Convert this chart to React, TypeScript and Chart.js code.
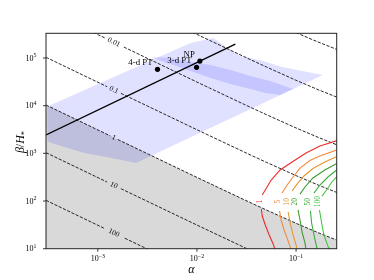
import React, { useEffect, useRef } from 'react';
import { Chart, registerables } from 'chart.js';

Chart.register(...registerables);

type P = [number, number | null];

// Axis ranges (alpha, beta/H*)
const X_MIN = 3.1e-4;
const X_MAX = 0.257;
const Y_MIN = 10;
const Y_MAX = 3.3e5;

// Tick values and exponent labels
const xTicks = [1e-3, 1e-2, 1e-1];
const xTickExp = ['\u22123', '\u22122', '\u22121'];
const yTicks = [1e1, 1e2, 1e3, 1e4, 1e5];
const yTickExp = ['1', '2', '3', '4', '5'];

// Gray excluded region (below the "1" iso-line)
const grayRegion: P[] = [[3.0e-4, 10340], [1e-3, 3103], [0.01, 313.1], [0.03, 106.4], [0.05, 65.1], [0.1, 34.1], [0.17, 21.33], [0.26, 15.02]];

// Light blue band (polygon)
const lightBand: P[] = [
  [3.1e-4, 9600], [0.00863, 206000], [0.01469, 262400], [0.02173, 146900], [0.02742, 110000],
  [0.04667, 86450], [0.069, 66200], [0.1023, 55960], [0.1866, 43950], [0.00242, 627],
  [0.001297, 818], [7.28e-4, 1016], [3.4e-4, 1648], [3.1e-4, 1815],
];

// Darker blue band (polygon)
const darkBand: P[] = [
  [3.59e-3, 104800], [5.44e-3, 99900], [7.69e-3, 86450], [0.0137, 71260], [0.02175, 55960],
  [0.03453, 41900], [0.05481, 32910], [0.09326, 22360], [0.06905, 16730], [0.04884, 18430],
  [0.03453, 22360], [0.02175, 28470], [0.0137, 38030], [8.63e-3, 53330], [5.44e-3, 74770], [3.59e-3, 99900],
];

// Dashed iso-lines (null marks the gap for the inline label)
const iso00001: P[] = [[0.1, 341000], [0.15, 237700], [0.17, 213300], [0.26, 150200]];
const iso0001: P[] = [[0.009, 347600], [0.01, 313100], [0.03, 106400], [0.05, 65100], [0.1, 34100], [0.17, 21330], [0.26, 15020]];
const iso001: P[] = [[9e-4, 344700], [1.18e-3, 263000], [1.45e-3, null], [1.83e-3, 169700], [0.01, 31310], [0.03, 10640], [0.05, 6510], [0.1, 3410], [0.17, 2133], [0.26, 1502]];
const iso01: P[] = [[3.0e-4, 103400], [1.24e-3, 25030], [1.45e-3, null], [1.71e-3, 18160], [0.01, 3131], [0.03, 1064], [0.05, 651], [0.1, 341], [0.17, 213.3], [0.26, 150.2]];
const iso1: P[] = [[3.0e-4, 10340], [1.34e-3, 2317], [1.45e-3, null], [1.59e-3, 1953], [0.01, 313.1], [0.03, 106.4], [0.05, 65.1], [0.1, 34.1], [0.17, 21.33], [0.26, 15.02]];
const iso10: P[] = [[3.0e-4, 1034], [1.24e-3, 250.3], [1.45e-3, null], [1.71e-3, 181.6], [0.01, 31.31], [0.03, 10.64], [0.035, 9.17]];
const iso100: P[] = [[3.0e-4, 103.4], [1.15e-3, 26.99], [1.45e-3, null], [1.87e-3, 16.61], [3.2e-3, 9.72]];

const isoLabelText = ['0.01', '0.1', '1', '10', '100'];
const isoLabelLines = [iso001, iso01, iso1, iso10, iso100];
const isoLabelAlpha = [1.45e-3, 1.45e-3, 1.45e-3, 1.45e-3, 1.45e-3];
const isoLabelBeta = [214100, 21410, 2141, 214.1, 21.41];

// SNR contours
const snr1: P[] = [[0.264, 1875], [0.174, 1426], [0.126, 1016], [0.0912, 658], [0.069, 448], [0.0561, 276], [0.0489, 170], [0.0456, 134], [0.045, null], [0.0446, 68], [0.0456, 48.5], [0.0489, 31.4], [0.0536, 19.4], [0.0587, 12.6], [0.0615, 9.5]];
const snr5: P[] = [[0.264, 1204], [0.174, 879], [0.138, 708], [0.1096, 492], [0.0933, 319], [0.0813, 217], [0.0723, 147], [0.07, null], [0.0682, 61.8], [0.0706, 40], [0.0757, 24.7], [0.0813, 16.7], [0.0871, 10.9], [0.0891, 9.5]];
const snr10: P[] = [[0.264, 879], [0.1954, 658], [0.1479, 481], [0.1202, 335], [0.1023, 227], [0.0912, 162], [0.087, null], [0.0832, 58.9], [0.0871, 34.6], [0.0933, 19.4], [0.1012, 10.9], [0.1023, 9.5]];
const snr20: P[] = [[0.264, 627], [0.1954, 448], [0.1479, 304], [0.123, 197], [0.1096, 140], [0.107, null], [0.1047, 64.9], [0.1096, 40], [0.1148, 22.4], [0.123, 13.2], [0.1259, 9.5]];
const snr50: P[] = [[0.264, 470], [0.2094, 319], [0.1742, 217], [0.1514, 147], [0.145, null], [0.1396, 61.8], [0.1435, 34.6], [0.1514, 19.4], [0.1614, 10.9], [0.1626, 9.5]];
const snr100: P[] = [[0.264, 343], [0.2296, 251], [0.2032, 170], [0.1824, 127], [0.177, null], [0.1722, 64.9], [0.1811, 34.6], [0.191, 19.4], [0.2109, 10.9], [0.2143, 9.5]];

const snrCurves = [snr1, snr5, snr10, snr20, snr50, snr100];
const snrLabels = ['1', '5', '10', '20', '50', '100'];
const snrColors = ['#ee2a2a', '#f5893a', '#e8952a', '#3d9a30', '#3aae3a', '#44c444'];
const snrLabelAlpha = [0.0436, 0.0664, 0.0805, 0.0977, 0.1327, 0.1675];
const snrLabelBeta = [96.8, 96.8, 96.8, 96.8, 96.8, 96.8];

// Solid line
const solidLine: P[] = [[3.0e-4, 2430], [0.0244, 196000]];

// Benchmark points
const ptNames = ['4-d PT', '3-d PT', 'NP'];
const ptAlpha = [0.004, 0.00991, 0.0107];
const ptBeta = [57900, 63750, 86450];

const toXY = (arr: P[]) => arr.map(([x, y]) => ({ x, y }));

const SERIF = '"Liberation Serif", "Times New Roman", serif';

const decorPlugin = {
  id: 'decor',
  afterDatasetsDraw(chart: any) {
    const ctx = chart.ctx as CanvasRenderingContext2D;
    const xs = chart.scales.x;
    const ys = chart.scales.y;
    ctx.save();
    ctx.font = `7.5px ${SERIF}`;
    ctx.fillStyle = '#000';
    ctx.textAlign = 'center';
    ctx.textBaseline = 'middle';
    isoLabelText.forEach((t, i) => {
      const line = isoLabelLines[i];
      const gi = line.findIndex((p) => p[1] === null);
      const a = line[gi - 1];
      const b = line[gi + 1];
      const ang = Math.atan2(
        ys.getPixelForValue(b[1]) - ys.getPixelForValue(a[1]),
        xs.getPixelForValue(b[0]) - xs.getPixelForValue(a[0])
      );
      const px = xs.getPixelForValue(isoLabelAlpha[i]);
      const py = ys.getPixelForValue(isoLabelBeta[i]);
      ctx.save();
      ctx.translate(px, py);
      ctx.rotate(ang);
      ctx.fillText(t, 0, 0);
      ctx.restore();
    });
    snrLabels.forEach((t, i) => {
      const px = xs.getPixelForValue(snrLabelAlpha[i]);
      const py = ys.getPixelForValue(snrLabelBeta[i]);
      ctx.save();
      ctx.translate(px, py);
      ctx.rotate(-Math.PI / 2);
      ctx.fillStyle = snrColors[i];
      ctx.fillText(t, 0, 0);
      ctx.restore();
    });
    ctx.font = `8.8px ${SERIF}`;
    ctx.fillStyle = '#000';
    ctx.textAlign = 'right';
    ctx.textBaseline = 'alphabetic';
    ptNames.forEach((t, i) => {
      const px = xs.getPixelForValue(ptAlpha[i]);
      const py = ys.getPixelForValue(ptBeta[i]);
      ctx.fillText(t, px - 5, py - 4);
    });
    ctx.restore();
  },
  afterDraw(chart: any) {
    const ctx = chart.ctx as CanvasRenderingContext2D;
    const xs = chart.scales.x;
    const ys = chart.scales.y;
    const ca = chart.chartArea;
    ctx.save();
    ctx.strokeStyle = '#222';
    ctx.lineWidth = 1;
    ctx.strokeRect(ca.left, ca.top, ca.right - ca.left, ca.bottom - ca.top);
    ctx.lineWidth = 0.9;
    ctx.beginPath();
    xTicks.forEach((v) => {
      const x = xs.getPixelForValue(v);
      ctx.moveTo(x, ca.bottom);
      ctx.lineTo(x, ca.bottom + 3);
    });
    yTicks.forEach((v) => {
      const y = ys.getPixelForValue(v);
      ctx.moveTo(ca.left, y);
      ctx.lineTo(ca.left - 3, y);
    });
    ctx.stroke();

    ctx.fillStyle = '#000';
    ctx.textBaseline = 'alphabetic';
    ctx.textAlign = 'left';
    const baseFont = `8px ${SERIF}`;
    const supFont = `5.8px ${SERIF}`;
    const measure = (t: string, f: string) => {
      ctx.font = f;
      return ctx.measureText(t).width;
    };
    xTicks.forEach((v, i) => {
      const x = xs.getPixelForValue(v);
      const w1 = measure('10', baseFont);
      const w2 = measure(xTickExp[i], supFont);
      const x0 = x - (w1 + w2) / 2;
      ctx.font = baseFont;
      ctx.fillText('10', x0, ca.bottom + 12.5);
      ctx.font = supFont;
      ctx.fillText(xTickExp[i], x0 + w1, ca.bottom + 8.8);
    });
    yTicks.forEach((v, i) => {
      const y = ys.getPixelForValue(v);
      const w1 = measure('10', baseFont);
      const w2 = measure(yTickExp[i], supFont);
      const right = ca.left - 9.5;
      const x0 = right - (w1 + w2);
      ctx.font = baseFont;
      ctx.fillText('10', x0, y + 2.5);
      ctx.font = supFont;
      ctx.fillText(yTickExp[i], x0 + w1, y - 0.8);
    });

    ctx.font = `italic 12px ${SERIF}`;
    ctx.textAlign = 'center';
    ctx.textBaseline = 'middle';
    ctx.fillText('\u03b1', (ca.left + ca.right) / 2, 270);

    ctx.save();
    ctx.translate(19.5, (ca.top + ca.bottom) / 2 + 1);
    ctx.rotate(-Math.PI / 2);
    ctx.textAlign = 'left';
    ctx.textBaseline = 'alphabetic';
    const fI = `italic 12px ${SERIF}`;
    const fR = `12px ${SERIF}`;
    const fS = `8.5px ${SERIF}`;
    const parts: [string, string, number][] = [['\u03b2', fI, 0], ['/', fR, 0], ['H', fI, 0], ['*', fS, 3.6]];
    const widths = parts.map(([t, f]) => measure(t, f));
    const total = widths.reduce((a, b) => a + b, 0);
    let cx = -total / 2;
    parts.forEach(([t, f, dy], i) => {
      ctx.font = f;
      ctx.fillText(t, cx, 4.2 + dy);
      cx += widths[i];
    });
    ctx.restore();
    ctx.restore();
  },
};

export default function App() {
  const ref = useRef<HTMLCanvasElement | null>(null);
  useEffect(() => {
    if (!ref.current) return;
    Chart.defaults.font.family = SERIF;
    const fillDs = (data: P[], color: string, fill: any, order: number) => ({
      data: toXY(data),
      fill,
      backgroundColor: color,
      borderColor: 'rgba(0,0,0,0)',
      borderWidth: 0,
      pointRadius: 0,
      order,
    });
    const dashDs = (data: P[]) => ({
      data: toXY(data),
      fill: false,
      borderColor: '#111',
      borderWidth: 0.9,
      borderDash: [3.2, 1.5],
      pointRadius: 0,
      order: 5,
    });
    const datasets: any[] = [
      fillDs(grayRegion, '#d9d9d9', 'start', 10),
      fillDs(lightBand, 'rgba(0,0,255,0.12)', 'shape', 9),
      fillDs(darkBand, 'rgba(0,0,255,0.12)', 'shape', 8),
      ...[iso00001, iso0001, iso001, iso01, iso1, iso10, iso100].map(dashDs),
      ...snrCurves.map((c, i) => ({
        data: toXY(c),
        fill: false,
        borderColor: snrColors[i],
        borderWidth: 1.1,
        pointRadius: 0,
        order: 4,
      })),
      {
        data: toXY(solidLine),
        fill: false,
        borderColor: '#000',
        borderWidth: 1.3,
        pointRadius: 0,
        order: 3,
      },
      {
        data: ptAlpha.map((a, i) => ({ x: a, y: ptBeta[i] })),
        showLine: false,
        pointRadius: 2.6,
        pointBackgroundColor: '#000',
        pointBorderWidth: 0,
        order: 1,
      },
    ];
    const chart = new Chart(ref.current, {
      type: 'line',
      data: { datasets },
      options: {
        animation: false,
        responsive: true,
        maintainAspectRatio: false,
        events: [],
        layout: { padding: { top: 33.3, right: 37.3, left: 0, bottom: 0 } },
        plugins: { legend: { display: false }, tooltip: { enabled: false } },
        scales: {
          x: {
            type: 'logarithmic',
            min: X_MIN,
            max: X_MAX,
            grid: { display: false },
            border: { display: false },
            ticks: { display: false },
            afterFit: (s: any) => { s.height = 31.3; },
          },
          y: {
            type: 'logarithmic',
            min: Y_MIN,
            max: Y_MAX,
            grid: { display: false },
            border: { display: false },
            ticks: { display: false },
            afterFit: (s: any) => { s.width = 46; },
          },
        },
      } as any,
      plugins: [decorPlugin],
    });
    return () => chart.destroy();
  }, []);
  return (
    <div style={{ position: 'fixed', left: 0, top: 0, width: 374, height: 280, background: '#fff' }}>
      <canvas ref={ref} />
    </div>
  );
}
